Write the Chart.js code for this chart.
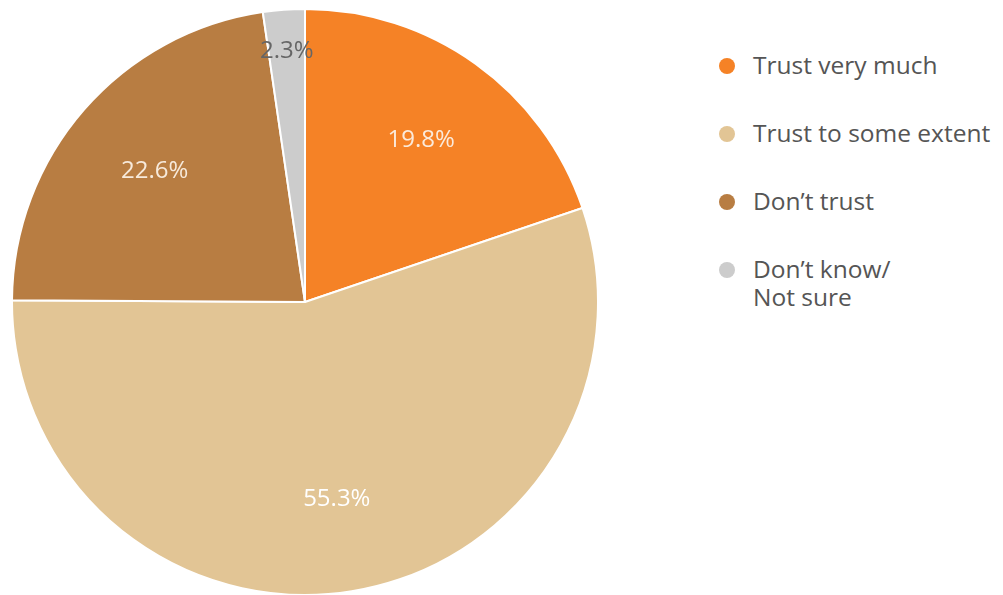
<!DOCTYPE html>
<html>
<head>
<meta charset="utf-8">
<script src="https://cdn.jsdelivr.net/npm/chart.js@4.4.1/dist/chart.umd.min.js"></script>
<style>
  html, body { margin: 0; padding: 0; background: #fff; overflow: hidden; }
  body { width: 1003px; height: 595px; position: relative; font-family: 'Open Sans', sans-serif; }
  #pieWrap { position: absolute; left: 11px; top: 8px; width: 588px; height: 588px; }
  #legend { position: absolute; left: 719px; top: 51px; margin: 0; padding: 0; list-style: none; }
  #legend li { position: relative; padding-left: 34px; margin-bottom: 40px; color: #555; font-size: 24.5px; line-height: 28px; white-space: pre-line; }
  #legend .dot { position: absolute; left: 0; top: 7px; width: 16px; height: 16px; border-radius: 50%; }
</style>
</head>
<body>
<div id="pieWrap"><canvas id="trustChart"></canvas></div>
<ul id="legend"></ul>
<script>
const labels = ['Trust very much', 'Trust to some extent', 'Don\u2019t trust', 'Don\u2019t know/\nNot sure'];
const values = [19.8, 55.3, 22.6, 2.3];
const colors = ['#f58226', '#e2c595', '#b87d42', '#cccccc'];
const labelColors = ['#fbeadb', '#ffffff', '#f7eadb', '#666666'];

// percentage text inside each slice
const sliceLabels = {
  id: 'sliceLabels',
  afterDatasetsDraw(chart) {
    const ctx = chart.ctx;
    const meta = chart.getDatasetMeta(0);
    ctx.save();
    ctx.font = '24px "Open Sans", sans-serif';
    ctx.textAlign = 'center';
    ctx.textBaseline = 'middle';
    meta.data.forEach((arc, i) => {
      const { x, y, startAngle, endAngle, outerRadius } = arc.getProps(['x', 'y', 'startAngle', 'endAngle', 'outerRadius'], true);
      const mid = (startAngle + endAngle) / 2;
      const r = outerRadius * (values[i] < 5 ? 0.86 : 0.68);
      ctx.fillStyle = labelColors[i];
      ctx.fillText(values[i].toFixed(1) + '%', x + Math.cos(mid) * r, y + Math.sin(mid) * r);
    });
    ctx.restore();
  }
};

new Chart(document.getElementById('trustChart'), {
  type: 'pie',
  data: {
    labels,
    datasets: [{
      data: values,
      backgroundColor: colors,
      borderColor: '#ffffff',
      borderWidth: 2
    }]
  },
  options: {
    responsive: true,
    maintainAspectRatio: false,
    animation: false,
    layout: { padding: 0 },
    plugins: {
      legend: { display: false },
      tooltip: { enabled: false }
    }
  },
  plugins: [sliceLabels]
});

const legend = document.getElementById('legend');
labels.forEach((text, i) => {
  const li = document.createElement('li');
  li.innerHTML = `<span class="dot" style="background:${colors[i]}"></span>`;
  li.appendChild(document.createTextNode(text));
  legend.appendChild(li);
});
</script>
</body>
</html>
